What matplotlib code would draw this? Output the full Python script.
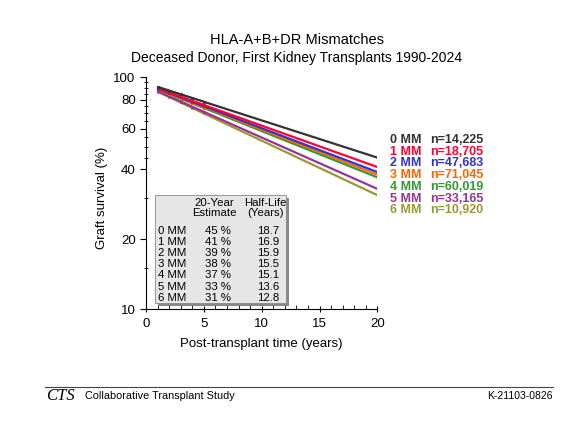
import numpy as np
import matplotlib.pyplot as plt
from matplotlib.patches import Rectangle
from matplotlib.ticker import FixedLocator, NullFormatter

plt.rcParams['font.family'] = ['Liberation Sans', 'DejaVu Sans']

# Data
groups = ['0 MM', '1 MM', '2 MM', '3 MM', '4 MM', '5 MM', '6 MM']
counts = ['n=14,225', 'n=18,705', 'n=47,683', 'n=71,045', 'n=60,019', 'n=33,165', 'n=10,920']
colors = ['#333333', '#ff0033', '#3333cc', '#ff6600', '#339933', '#993399', '#999933']
obs_years = [1, 2, 3, 4, 5]
obs_surv = [
    [90.8, 87.6, 84.4, 81.4, 78.5],
    [89.4, 85.8, 82.3, 79.0, 75.9],
    [89.2, 85.5, 81.8, 78.3, 75.0],
    [88.9, 85.0, 81.3, 77.7, 74.3],
    [88.5, 84.5, 80.7, 77.1, 73.7],
    [86.9, 82.6, 78.5, 74.6, 70.9],
    [86.6, 82.2, 77.8, 73.7, 69.8],
]
fit_years = [1, 20]
est20 = [45, 41, 39, 38, 37, 33, 31]
est20_txt = ['45 %', '41 %', '39 %', '38 %', '37 %', '33 %', '31 %']
half_life = ['18.7', '16.9', '15.9', '15.5', '15.1', '13.6', '12.8']

W, H = 564.0, 436.0
fig = plt.figure(figsize=(5.64, 4.36), dpi=100)
ax = fig.add_axes([0.259, 0.291, 0.41, 0.532])

# draw lines, 0 MM on top
for i in reversed(range(len(groups))):
    ax.plot(fit_years, [obs_surv[i][0], est20[i]], color=colors[i], lw=1.6, solid_capstyle='butt')
    ax.plot(obs_years, obs_surv[i], color=colors[i], lw=1.0, marker='s', ms=2.0, mew=0.5)

ax.set_yscale('log')
ax.set_xlim(0, 20)
ax.set_ylim(10, 100)
ax.yaxis.set_major_locator(FixedLocator([10, 20, 40, 60, 80, 100]))
ax.yaxis.set_major_formatter(plt.FuncFormatter(lambda v, p: '%d' % v))
ax.yaxis.set_minor_locator(FixedLocator([15, 30, 45, 50, 55, 65, 70, 75, 85, 90, 95]))
ax.yaxis.set_minor_formatter(NullFormatter())
ax.set_xticks([0, 5, 10, 15, 20])
ax.set_xticks(np.arange(0, 21, 1), minor=True)
for s in ['top', 'right']:
    ax.spines[s].set_visible(False)
for s in ['left', 'bottom']:
    ax.spines[s].set_linewidth(0.8)
ax.tick_params(axis='y', which='major', direction='out', length=4, width=0.8, labelsize=9.5)
ax.tick_params(axis='y', which='minor', direction='inout', length=3, width=0.6)
ax.tick_params(axis='x', which='major', direction='inout', length=5, width=0.8, labelsize=9.5, pad=4)
ax.tick_params(axis='x', which='minor', direction='in', length=3, width=0.6)
ax.set_xlabel('Post-transplant time (years)', fontsize=9.5)
ax.set_ylabel('Graft survival (%)', fontsize=9.5)
ax.xaxis.set_label_coords(0.5, -0.126)
ax.yaxis.set_label_coords(-0.164, 0.48)

# titles
fig.text(297 / W, 1 - 40 / H, 'HLA-A+B+DR Mismatches', ha='center', va='center', fontsize=10.5)
fig.text(297 / W, 1 - 58 / H, 'Deceased Donor, First Kidney Transplants 1990-2024', ha='center', va='center', fontsize=10)

# legend on the right
for i in range(len(groups)):
    y = 1 - (140 + i * 11.7) / H
    fig.text(390 / W, y, groups[i], color=colors[i], fontsize=9, fontweight='bold', va='center')
    fig.text(430 / W, y, counts[i], color=colors[i], fontsize=9, fontweight='bold', va='center')

# table box with shadow
fig.patches.append(Rectangle((158 / W, 1 - 306 / H), 131 / W, 108 / H, transform=fig.transFigure,
                             facecolor='#888888', edgecolor='none', zorder=3))
fig.patches.append(Rectangle((155 / W, 1 - 303 / H), 131 / W, 108 / H, transform=fig.transFigure,
                             facecolor='#e6e6e6', edgecolor='#888888', lw=0.6, zorder=4))
fs = 8.2
fig.text(214 / W, 1 - 208 / H, '20-Year\nEstimate', ha='center', va='center', fontsize=fs,
         linespacing=0.95, zorder=5)
fig.text(265 / W, 1 - 208 / H, 'Half-Life\n(Years)', ha='center', va='center', fontsize=fs,
         linespacing=0.95, zorder=5)
for i in range(len(groups)):
    y = 1 - (231 + i * 11.1) / H
    fig.text(158 / W, y, groups[i], ha='left', va='center', fontsize=fs, zorder=5)
    fig.text(218 / W, y, est20_txt[i], ha='center', va='center', fontsize=fs, zorder=5)
    fig.text(268 / W, y, half_life[i], ha='center', va='center', fontsize=fs, zorder=5)

# footer
fig.add_artist(plt.Line2D([45 / W, 553 / W], [1 - 387 / H, 1 - 387 / H], color='#444444', lw=0.8))
fig.text(46 / W, 1 - 396 / H, 'CTS', fontsize=12, family='Liberation Serif', style='italic', va='center')
fig.text(85 / W, 1 - 396 / H, 'Collaborative Transplant Study', fontsize=7.8, va='center')
fig.text(553 / W, 1 - 396 / H, 'K-21103-0826', fontsize=7.5, va='center', ha='right')

fig.savefig('out.png', dpi=100)
